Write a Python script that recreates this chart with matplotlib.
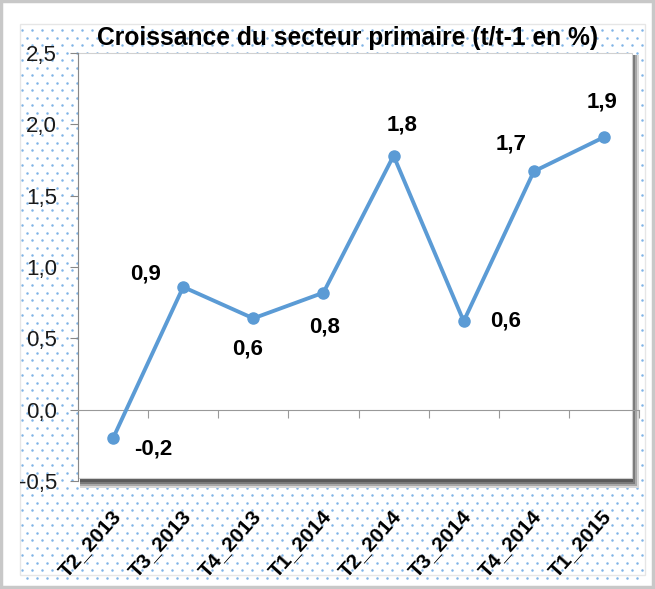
import numpy as np
import matplotlib
matplotlib.use('Agg')
import matplotlib.pyplot as plt
from matplotlib.patches import Rectangle
import matplotlib.transforms as mtransforms

# chart data
quarters = ['T2_2013', 'T3_2013', 'T4_2013', 'T1_2014',
            'T2_2014', 'T3_2014', 'T4_2014', 'T1_2015']
growth = [-0.2, 0.86, 0.64, 0.82, 1.78, 0.62, 1.67, 1.91]
labels = ['-0,2', '0,9', '0,6', '0,8', '1,8', '0,6', '1,7', '1,9']
y_ticks = [-0.5, 0.0, 0.5, 1.0, 1.5, 2.0, 2.5]

# label placement (offset in points: dx, dy)
label_offsets = [(29, -8), (-27, 9), (-4, -22), (1, -25),
                 (6, 22), (30, 0), (-16, 20), (-1, 25)]

FONT = 'Liberation Sans'

W, H = 655, 589
fig = plt.figure(figsize=(W / 100, H / 100), dpi=100)
fig.patch.set_facecolor('white')

# dotted background
bg = fig.add_axes([0, 0, 1, 1])
bg.set_xlim(0, W)
bg.set_ylim(H, 0)
bg.axis('off')
gx, gy = [], []
for i, yy in enumerate(np.arange(30, H - 8, 7.5)):
    off = 0 if i % 2 == 0 else 5
    for xx in np.arange(22 + off, W - 10, 10.0):
        gx.append(xx)
        gy.append(yy)
bg.scatter(gx, gy, s=3.2, color='#7fb3e6', linewidths=0, zorder=1)
# outer frame
bg.add_patch(Rectangle((1, 1), W - 3, H - 3, fill=False, ec='#c8c8c8', lw=2.5, zorder=2))
bg.add_patch(Rectangle((20, 24), W - 30, H - 38, fill=False, ec='#e6e6e6', lw=1.0, zorder=2))

# plot area shadow (bevel)
for k, (d, c) in enumerate([(9, '#d8d8d8'), (7, '#a8a8a8'), (5, '#7a7a7a'), (3, '#5a5a5a')]):
    bg.add_patch(Rectangle((80, 55), 559 - 8 + d - 9 + 8, 425 + d - 9 + 8,
                           fc=c, ec='none', zorder=3 + k))
bg.add_patch(Rectangle((78, 53), 554, 425, fc='white', ec='#d0d0d0', lw=0.8, zorder=8))

ax = fig.add_axes([78 / W, 1 - 481 / H, (639 - 78) / W, (481 - 53) / H])
ax.set_facecolor('none')
ax.set_zorder(10)
x = np.arange(len(quarters))
ax.plot(x, growth, color='#5b9bd5', lw=2.8, marker='o', ms=8,
        solid_capstyle='round', zorder=5)

for xi, yi, lab, (dx, dy) in zip(x, growth, labels, label_offsets):
    ax.annotate(lab, (xi, yi), xytext=(dx, dy), textcoords='offset points',
                ha='center', va='center', fontsize=16, fontweight='bold',
                family=FONT, color='black')

ax.set_xlim(-0.5, len(quarters) - 0.5)
ax.set_ylim(-0.5, 2.5)
ax.set_yticks(y_ticks)
ax.set_yticklabels([('%.1f' % v).replace('.', ',') for v in y_ticks],
                   fontsize=16, family=FONT, color='#1a1a1a')
ax.tick_params(axis='y', length=6, color='#888888', pad=9)

for s in ['top', 'right']:
    ax.spines[s].set_visible(False)
ax.spines['left'].set_color('#888888')
ax.spines['bottom'].set_position(('data', 0))
ax.spines['bottom'].set_color('#999999')
ax.set_xticks(x + 0.5, minor=False)
ax.set_xticklabels([])
ax.tick_params(axis='x', length=6, direction='out', color='#999999')

trans = mtransforms.blended_transform_factory(ax.transData, fig.transFigure)
for xi, q in zip(x, quarters):
    ax.text(xi - 0.04, 1 - 507 / H, q, transform=trans, rotation=48,
            ha='right', va='top', fontsize=15, fontweight='bold',
            family=FONT, color='black', rotation_mode='anchor')

fig.text(348 / W, 1 - 38 / H, 'Croissance du secteur primaire (t/t-1 en %)',
         ha='center', va='center', fontsize=17.7, fontweight='bold',
         family=FONT, color='black')

fig.savefig('out.png', dpi=100)
